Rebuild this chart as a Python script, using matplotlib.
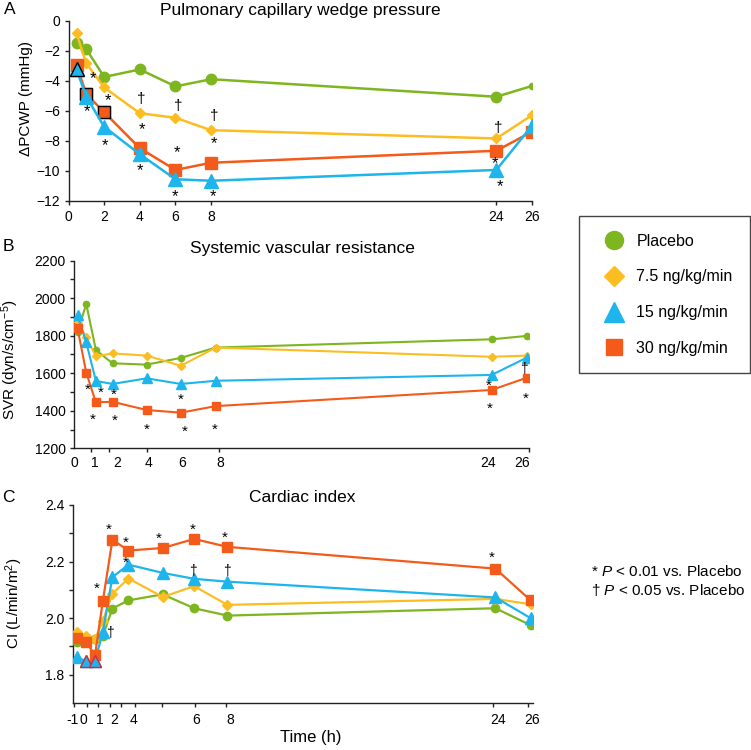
import matplotlib
matplotlib.use("Agg")
import matplotlib.pyplot as plt
from matplotlib.lines import Line2D
import numpy as np

plt.rcParams['font.family'] = ['Liberation Sans', 'DejaVu Sans']
plt.rcParams['mathtext.fontset'] = 'custom'
plt.rcParams['mathtext.rm'] = 'Liberation Sans'
plt.rcParams['mathtext.it'] = 'Liberation Sans:italic'

groups = ['Placebo', '7.5 ng/kg/min', '15 ng/kg/min', '30 ng/kg/min']

# panel A: change in PCWP (mmHg)
time_a = [0.45, 1, 2, 4, 6, 8, 24, 26]
pcwp_placebo = [-1.47, -1.9, -3.75, -3.25, -4.38, -3.9, -5.07, -4.35]
pcwp_7_5 = [-0.85, -2.85, -4.45, -6.17, -6.47, -7.3, -7.85, -6.3]
pcwp_15 = [-3.25, -5.07, -7.07, -8.9, -10.57, -10.67, -9.95, -7.0]
pcwp_30 = [-2.95, -4.9, -6.1, -8.5, -9.95, -9.47, -8.67, -7.4]
sig_a_x = [1.35, 2.2, 1.05, 2.05, 4.1, 4.1, 4.0, 6.15, 6.1, 6.0, 8.15, 8.15, 8.1, 24.1, 23.9, 24.2]
sig_a_y = [-3.85, -5.35, -6.07, -8.3, -5.2, -7.25, -10.0, -5.7, -8.77, -11.7, -6.35, -8.17, -11.75, -7.13, -9.55, -11.07]
sig_a_sym = ['*', '*', '*', '*', '†', '*', '*', '†', '*', '*', '†', '*', '*', '†', '*', '*']

# panel B: SVR (dyn/s/cm-5)
time_b = [0.2, 0.7, 1.25, 2.2, 4.15, 6.1, 8.1, 23.85, 25.85]
svr_placebo = [1821, 1969, 1724, 1653, 1646, 1682, 1737, 1781, 1799]
svr_7_5 = [1873, 1792, 1690, 1706, 1694, 1640, 1737, 1688, 1694]
svr_15 = [1908, 1765, 1559, 1543, 1573, 1543, 1560, 1591, 1683]
svr_30 = [1840, 1603, 1445, 1448, 1404, 1390, 1425, 1511, 1576]
sig_b_x = [0.76, 1.52, 2.25, 1.07, 2.34, 4.15, 6.09, 6.34, 8.01, 23.66, 23.76, 25.7, 25.81]
sig_b_y = [1514, 1496, 1484, 1354, 1347, 1301, 1461, 1289, 1301, 1532, 1413, 1623, 1466]
sig_b_sym = ['*', '*', '*', '*', '*', '*', '*', '*', '*', '*', '*', '†', '*']

# panel C: cardiac index (L/min/m2)
time_c = [-0.85, -0.33, 0.2, 0.67, 1.24, 2.2, 4.24, 6.12, 8.1, 24.1, 26.2]
ci_placebo = [1.915, 1.92, 1.925, 1.938, 2.034, 2.063, 2.084, 2.035, 2.009, 2.035, 1.975]
ci_7_5 = [1.95, 1.936, 1.926, 1.99, 2.087, 2.14, 2.075, 2.113, 2.047, 2.068, 2.049]
ci_15 = [1.862, 1.847, 1.847, 1.952, 2.145, 2.189, 2.16, 2.139, 2.129, 2.073, 2.0]
ci_30 = [1.93, 1.917, 1.868, 2.061, 2.277, 2.239, 2.248, 2.28, 2.252, 2.175, 2.063]
sig_c_x = [1.0, 2.05, 4.0, 6.06, 7.95, 0.33, 2.05, 23.9, 1.06, 6.06, 8.05]
sig_c_y = [2.312, 2.266, 2.28, 2.312, 2.285, 2.104, 2.197, 2.213, 1.947, 2.168, 2.166]
sig_c_sym = ['*', '*', '*', '*', '*', '*', '*', '*', '†', '†', '†']

colors = ['#7db61f', '#fcbd22', '#1db5ec', '#f45a1a']
markers = ['o', 'D', '^', 's']

W, H = 751, 750
fig = plt.figure(figsize=(W / 100, H / 100), dpi=100)


def px_axes(l, t, r, b):
    return fig.add_axes([l / W, 1 - b / H, (r - l) / W, (b - t) / H])


def style(ax):
    for s in ['top', 'right']:
        ax.spines[s].set_visible(False)
    for s in ['left', 'bottom']:
        ax.spines[s].set_linewidth(1.0)
        ax.spines[s].set_color('#222222')
    ax.tick_params(which='both', direction='out', length=3, width=1, labelsize=10, color='#222222')
    ax.tick_params(axis='y', pad=3)


def stars(ax, xs, ys, syms, size=12):
    for x, y, s in zip(xs, ys, syms):
        fs = size if s == '*' else size - 1
        ax.text(x, y, s, ha='center', va='center', fontsize=fs, zorder=10)


# ---- A ----
ax = px_axes(68.5, 20.7, 532, 200.7)
style(ax)
msz_a = [7.5, 5.5, 9.5, 8]
order_a = [0, 1, 3, 2]
for i in order_a:
    y = [pcwp_placebo, pcwp_7_5, pcwp_15, pcwp_30][i]
    ev = list(range(len(time_a) - 1)) if i == 0 else None
    ax.plot(time_a, y, color=colors[i], marker=markers[i], ms=msz_a[i], lw=1.8,
            markevery=ev, zorder=3 + order_a.index(i))
ax.plot(time_a[-1:], pcwp_placebo[-1:], 'o', color=colors[0], ms=4.5, zorder=3)
# outlined points
ax.plot([time_a[0]], [pcwp_15[0]], '^', ms=9.5, color=colors[2], mec='k', mew=1.0, zorder=7)
ax.plot(time_a[1:3], pcwp_30[1:3], 's', ms=8, color=colors[3], mec='k', mew=1.0, zorder=5)
stars(ax, sig_a_x, sig_a_y, sig_a_sym)
ax.set_xlim(0, 26)
ax.set_ylim(-12, 0)
ax.set_xticks([0, 2, 4, 6, 8, 24, 26])
ax.set_yticks(np.arange(-12, 1, 2))
ax.tick_params(axis='x', pad=4)
ax.set_ylabel('ΔPCWP (mmHg)', fontsize=11)
ax.yaxis.set_label_coords((33 - 68.5) / 463.5, 0.57)
fig.text(300 / W, 1 - 10 / H, 'Pulmonary capillary wedge pressure', ha='center', va='center', fontsize=12.5)
fig.text(10 / W, 1 - 10 / H, 'A', ha='center', va='center', fontsize=12.5)

# ---- B ----
ax = px_axes(74, 260.7, 529.3, 448.3)
style(ax)
msz_b = [4.5, 3.8, 6.5, 5.2]
for i, y in enumerate([svr_placebo, svr_7_5, svr_15, svr_30]):
    ax.plot(time_b, y, color=colors[i], marker=markers[i], ms=msz_b[i], lw=1.5, zorder=3 + i)
stars(ax, sig_b_x, sig_b_y, sig_b_sym, size=11)
ax.set_xlim(0, 26)
ax.set_ylim(1200, 2200)
ax.set_yticks(np.arange(1200, 2201, 200))
ax.set_yticks(np.arange(1300, 2200, 200), minor=True)
ax.set_xticks([0, 0.97, 2.0, 4.19, 6.19, 8.3, 23.65, 26], minor=True)
ax.set_xticks([0, 1.16, 2.44, 4.24, 6.19, 8.34, 23.65, 25.57], ['0', '1', '2', '4', '6', '8', '24', '26'])
ax.tick_params(axis='x', which='major', length=0, pad=5.5)
ax.set_ylabel('SVR (dyn/s/cm$^{-5}$)', fontsize=11)
ax.yaxis.set_label_coords((21 - 74) / 455.3, 0.47)
fig.text(302 / W, 1 - 248 / H, 'Systemic vascular resistance', ha='center', va='center', fontsize=12.5)
fig.text(8 / W, 1 - 247 / H, 'B', ha='center', va='center', fontsize=12.5)

# ---- C ----
ax = px_axes(72.7, 505, 533, 703)
style(ax)
msz_c = [6, 4.6, 8.3, 6.5]
for i, y in enumerate([ci_placebo, ci_7_5, ci_15, ci_30]):
    ax.plot(time_c, y, color=colors[i], marker=markers[i], ms=msz_c[i], lw=1.6, zorder=3 + i)
ax.plot(time_c[1:3], ci_15[1:3], '^', ms=8.3, color=colors[2], mec='#d9263a', mew=1.0, zorder=7)
stars(ax, sig_c_x, sig_c_y, sig_c_sym, size=11)
ax.set_xlim(-1.06, 26.34)
ax.set_ylim(1.7, 2.4)
ax.set_yticks([1.8, 2.0, 2.2, 2.4], ['1.8', '2.0', '2.2', '2.4'])
ax.set_yticks([1.9, 2.1, 2.3], minor=True)
ax.set_xticks([-1.06, -0.29, 0.37, 1.12, 1.76, 2.59, 4.18, 6.18, 8.0, 23.98, 26.02], minor=True)
ax.set_xticks([-1.13, -0.48, 0.5, 1.32, 2.51, 6.22, 8.26, 24.27, 26.26],
              ['-1', '0', '1', '2', '4', '6', '8', '24', '26'])
ax.tick_params(axis='x', which='major', length=0, pad=7)
ax.set_ylabel('CI (L/min/m$^2$)', fontsize=11)
ax.yaxis.set_label_coords((25 - 72.7) / 460.3, 0.505)
ax.set_xlabel('Time (h)', fontsize=12)
ax.xaxis.set_label_coords((311 - 72.7) / 460.3, -(730 - 703) / 198)
fig.text(302.5 / W, 1 - 497 / H, 'Cardiac index', ha='center', va='center', fontsize=12.5)
fig.text(8 / W, 1 - 497 / H, 'C', ha='center', va='center', fontsize=12.5)

# legend
handles = [Line2D([], [], ls='none', marker=m, color=c, ms=s)
           for m, c, s in zip(markers, colors, [13, 10.5, 15, 12])]
fig.legend(handles, groups, loc='upper left', bbox_to_anchor=(579 / W, 1 - 216 / H),
           frameon=True, fancybox=False, edgecolor='#444444', framealpha=1,
           fontsize=11.5, borderpad=1.1, handlelength=2.2, handletextpad=0.3,
           labelspacing=1.3, borderaxespad=0)

fig.text(591 / W, 1 - 572 / H, '* $P$ < 0.01 vs. Placebo', ha='left', va='center', fontsize=11)
fig.text(591 / W, 1 - 590 / H, '† $P$ < 0.05 vs. Placebo', ha='left', va='center', fontsize=11)

fig.savefig('out.png', dpi=100)
